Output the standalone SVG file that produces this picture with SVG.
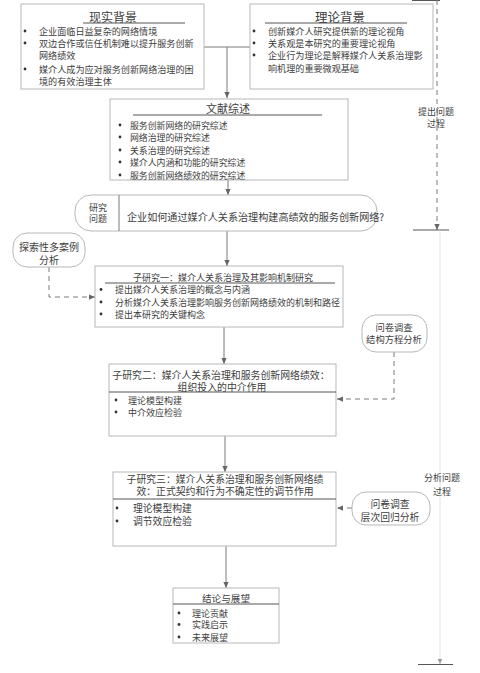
<svg xmlns="http://www.w3.org/2000/svg" width="480" height="673" viewBox="0 0 480 673">
<style>
.t{font-family:"Noto Sans CJK SC","Liberation Serif",sans-serif;fill:#404040;dominant-baseline:central}
.m{text-anchor:middle}
.box{fill:#fff;stroke:#b8b8b8;stroke-width:1}
.rule{stroke:#555;stroke-width:1}
.conn{stroke:#7a7a7a;stroke-width:1;fill:none}
.dash{stroke-dasharray:5,4}
.faint{stroke:#cfcfcf;stroke-width:1;fill:none;stroke-dasharray:1.5,1}
.dot{fill:#333}
</style>
<defs>
<marker id="ah" viewBox="0 0 8 8" refX="8" refY="4" markerWidth="6" markerHeight="6" orient="auto" markerUnits="userSpaceOnUse"><path d="M0,0.5 L8,4 L0,7.5 z" fill="#666"/></marker>
<marker id="ahf" viewBox="0 0 8 8" refX="8" refY="4" markerWidth="5" markerHeight="5" orient="auto" markerUnits="userSpaceOnUse"><path d="M0,0.5 L8,4 L0,7.5 z" fill="#999"/></marker>
</defs>
<rect width="480" height="673" fill="#fff"/>

<g id="connectors">
<path class="conn" d="M204,47 H250"/>
<path class="conn" d="M227,47 V98" marker-end="url(#ah)"/>
<path class="conn" d="M228,180 V195" marker-end="url(#ah)"/>
<path class="conn" d="M227,231 V266" marker-end="url(#ah)"/>
<path class="conn dash" d="M49,267 V297 H95" marker-end="url(#ah)"/>
<path class="conn" d="M224,327 V364" marker-end="url(#ah)"/>
<path class="conn dash" d="M394,352 V399 H337" marker-end="url(#ah)"/>
<path class="conn" d="M225,436 V472" marker-end="url(#ah)"/>
<path class="conn dash" d="M352,508 H337" marker-end="url(#ah)"/>
<path class="conn" d="M226,546 V588" marker-end="url(#ah)"/>
</g>

<g id="timeline">
<line class="rule" x1="412" y1="0.5" x2="440" y2="0.5"/>
<path class="conn dash" d="M437,0 V230" stroke="#555" marker-end="url(#ah)"/>
<line class="rule" x1="413" y1="230" x2="449" y2="230"/>
<path class="faint" d="M440,230 V664" marker-end="url(#ahf)"/>
<line class="rule" x1="418" y1="664.5" x2="453" y2="664.5"/>
<text class="t m" x="436" y="111" font-size="9">提出问题</text>
<text class="t m" x="436" y="123" font-size="9">过程</text>
<text class="t m" x="442" y="477" font-size="9">分析问题</text>
<text class="t m" x="442" y="491" font-size="9">过程</text>
</g>

<g id="bg-real">
<rect class="box" x="21" y="4" width="183" height="85"/>
<text class="t m" x="113" y="16" font-size="12">现实背景</text>
<line class="rule" x1="83" y1="23" x2="185" y2="23"/>
<circle class="dot" cx="25" cy="31" r="1.4"/>
<circle class="dot" cx="25" cy="43" r="1.4"/>
<circle class="dot" cx="25" cy="69" r="1.4"/>
<text class="t" x="39" y="31" font-size="9.1">企业面临日益复杂的网络情境</text>
<text class="t" x="39" y="43" font-size="9.1">双边合作或信任机制难以提升服务创新</text>
<text class="t" x="39" y="55" font-size="9.1">网络绩效</text>
<text class="t" x="39" y="69" font-size="9.1">媒介人成为应对服务创新网络治理的困</text>
<text class="t" x="39" y="81" font-size="9.1">境的有效治理主体</text>
</g>

<g id="bg-theory">
<rect class="box" x="250" y="4" width="183" height="85"/>
<text class="t m" x="340" y="16" font-size="12.5">理论背景</text>
<line class="rule" x1="265" y1="23" x2="407" y2="23"/>
<circle class="dot" cx="254" cy="31" r="1.4"/>
<circle class="dot" cx="254" cy="43" r="1.4"/>
<circle class="dot" cx="254" cy="55" r="1.4"/>
<text class="t" x="268" y="31" font-size="9.1">创新媒介人研究提供新的理论视角</text>
<text class="t" x="268" y="43" font-size="9.1">关系观是本研究的重要理论视角</text>
<text class="t" x="268" y="55" font-size="9.1">企业行为理论是解释媒介人关系治理影</text>
<text class="t" x="268" y="68" font-size="9.1">响机理的重要微观基础</text>
</g>

<g id="literature">
<rect class="box" x="110" y="99" width="238" height="81"/>
<text class="t m" x="228" y="108" font-size="11">文献综述</text>
<line class="rule" x1="133" y1="115" x2="322" y2="115"/>
<circle class="dot" cx="120" cy="125" r="1.4"/>
<circle class="dot" cx="120" cy="137" r="1.4"/>
<circle class="dot" cx="120" cy="150" r="1.4"/>
<circle class="dot" cx="120" cy="162" r="1.4"/>
<circle class="dot" cx="120" cy="175" r="1.4"/>
<text class="t" x="130" y="125" font-size="8.9">服务创新网络的研究综述</text>
<text class="t" x="130" y="137" font-size="8.9">网络治理的研究综述</text>
<text class="t" x="130" y="150" font-size="8.9">关系治理的研究综述</text>
<text class="t" x="130" y="162" font-size="8.9">媒介人内涵和功能的研究综述</text>
<text class="t" x="130" y="175" font-size="8.9">服务创新网络绩效的研究综述</text>
</g>

<g id="question">
<rect class="box" x="75" y="195" width="302" height="36" rx="16"/>
<line class="conn" x1="119" y1="195" x2="119" y2="231" stroke="#666"/>
<text class="t m" x="98" y="207" font-size="9">研究</text>
<text class="t m" x="98" y="218" font-size="9">问题</text>
<text class="t" x="127" y="216" font-size="10.1">企业如何通过媒介人关系治理构建高绩效的服务创新网络?</text>
</g>

<g id="case-study">
<rect class="box" x="13" y="233" width="72" height="34" rx="14"/>
<text class="t m" x="49" y="246" font-size="10">探索性多案例</text>
<text class="t m" x="49" y="259" font-size="10">分析</text>
</g>

<g id="study1">
<rect class="box" x="95" y="266" width="248" height="61"/>
<text class="t m" x="223" y="277" font-size="9">子研究一：媒介人关系治理及其影响机制研究</text>
<line class="rule" x1="105" y1="283" x2="335" y2="283"/>
<circle class="dot" cx="101" cy="289.5" r="1.4"/>
<circle class="dot" cx="101" cy="302" r="1.4"/>
<circle class="dot" cx="101" cy="314" r="1.4"/>
<text class="t" x="115" y="289.5" font-size="9">提出媒介人关系治理的概念与内涵</text>
<text class="t" x="115" y="302" font-size="9">分析媒介人关系治理影响服务创新网络绩效的机制和路径</text>
<text class="t" x="115" y="314" font-size="9">提出本研究的关键构念</text>
</g>

<g id="survey-sem">
<rect class="box" x="362" y="315" width="65" height="37" rx="14"/>
<text class="t m" x="394" y="327" font-size="9.3">问卷调查</text>
<text class="t m" x="394" y="339" font-size="9.3">结构方程分析</text>
</g>

<g id="study2">
<rect class="box" x="109" y="364" width="227" height="72"/>
<text class="t m" x="221" y="375" font-size="9.9">子研究二：媒介人关系治理和服务创新网络绩效：</text>
<text class="t m" x="222" y="386.5" font-size="9.9">组织投入的中介作用</text>
<line class="rule" x1="109" y1="392" x2="336" y2="392"/>
<circle class="dot" cx="116" cy="400" r="1.4"/>
<circle class="dot" cx="116" cy="412" r="1.4"/>
<text class="t" x="128" y="400" font-size="9">理论模型构建</text>
<text class="t" x="128" y="412" font-size="9">中介效应检验</text>
</g>

<g id="survey-reg">
<rect class="box" x="352" y="492" width="78" height="33" rx="14"/>
<text class="t m" x="390" y="504" font-size="9.8">问卷调查</text>
<text class="t m" x="390" y="517" font-size="9.8">层次回归分析</text>
</g>

<g id="study3">
<rect class="box" x="113" y="472" width="223" height="74"/>
<text class="t m" x="225" y="478.5" font-size="9.85">子研究三：媒介人关系治理和服务创新网络绩</text>
<text class="t m" x="225" y="491" font-size="9.85">效：正式契约和行为不确定性的调节作用</text>
<line class="rule" x1="113" y1="499" x2="336" y2="499"/>
<circle class="dot" cx="117" cy="508" r="1.4"/>
<circle class="dot" cx="117" cy="521" r="1.4"/>
<text class="t" x="133" y="508" font-size="9.8">理论模型构建</text>
<text class="t" x="133" y="521" font-size="9.8">调节效应检验</text>
</g>

<g id="conclusion">
<rect class="box" x="173" y="588" width="106" height="55"/>
<text class="t m" x="226" y="598" font-size="9.6">结论与展望</text>
<line class="rule" x1="173" y1="604" x2="279" y2="604"/>
<circle class="dot" cx="179" cy="613" r="1.4"/>
<circle class="dot" cx="179" cy="624.5" r="1.4"/>
<circle class="dot" cx="179" cy="637" r="1.4"/>
<text class="t" x="192" y="613" font-size="9">理论贡献</text>
<text class="t" x="192" y="624.5" font-size="9">实践启示</text>
<text class="t" x="192" y="637" font-size="9">未来展望</text>
</g>
</svg>
